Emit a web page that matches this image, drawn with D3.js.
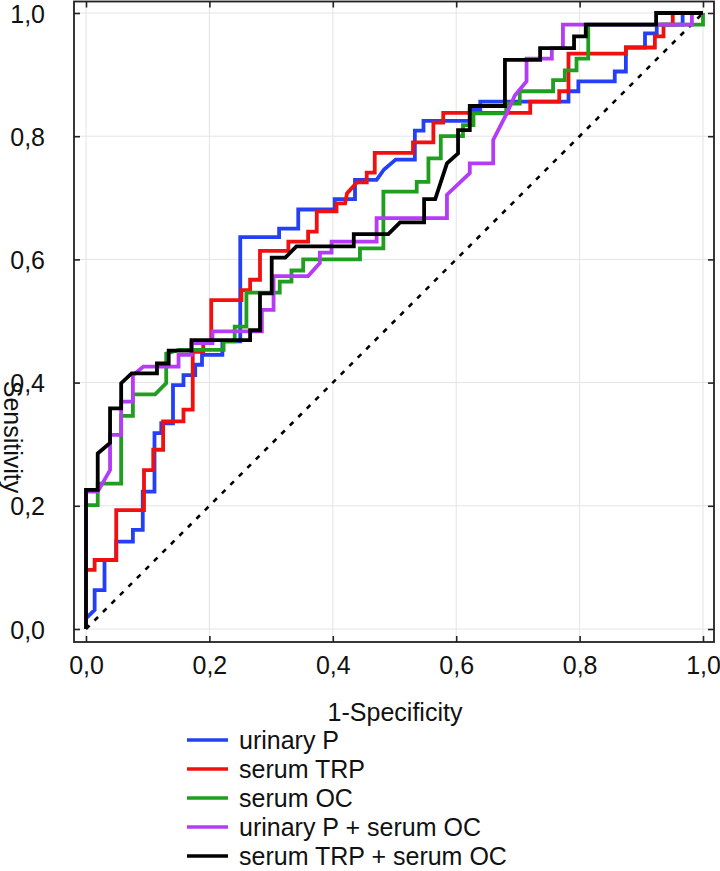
<!DOCTYPE html>
<html><head><meta charset="utf-8">
<script src="https://cdn.jsdelivr.net/npm/d3@7"></script>
<style>
html,body{margin:0;padding:0;background:#fff;}
svg{display:block;}
.tick-label{font-family:"Liberation Sans Narrow","Arial Narrow",sans-serif;font-size:25px;fill:#111;}
.txt{font-family:"Liberation Sans",Arial,sans-serif;font-size:25px;fill:#111;}
</style>
</head><body>
<svg id="chart" width="720" height="871"></svg>
<script>
const xTicks = [0, 0.2, 0.4, 0.6, 0.8, 1.0];
const yTicks = [0, 0.2, 0.4, 0.6, 0.8, 1.0];
const tickLabels = ["0,0", "0,2", "0,4", "0,6", "0,8", "1,0"];
const seriesNames = ["urinary P", "serum TRP", "serum OC", "urinary P + serum OC", "serum TRP + serum OC"];
const seriesColors = ["#2340f5", "#f01010", "#1f9e1f", "#b43cf5", "#000000"];

const urinaryP = [[0,0],[0,0.017],[0.014,0.031],[0.014,0.063],[0.030,0.063],[0.030,0.112],[0.049,0.112],[0.049,0.142],[0.076,0.142],[0.076,0.161],[0.092,0.161],[0.092,0.223],[0.111,0.223],[0.111,0.318],[0.122,0.318],[0.122,0.334],[0.141,0.334],[0.141,0.396],[0.158,0.396],[0.158,0.412],[0.177,0.412],[0.177,0.429],[0.188,0.429],[0.188,0.445],[0.221,0.445],[0.221,0.467],[0.250,0.467],[0.250,0.636],[0.313,0.636],[0.313,0.650],[0.344,0.650],[0.344,0.681],[0.403,0.681],[0.403,0.698],[0.436,0.698],[0.436,0.729],[0.471,0.729],[0.483,0.746],[0.502,0.762],[0.533,0.762],[0.533,0.809],[0.547,0.809],[0.547,0.825],[0.622,0.825],[0.622,0.843],[0.639,0.843],[0.639,0.856],[0.782,0.856],[0.782,0.873],[0.798,0.873],[0.798,0.889],[0.857,0.889],[0.857,0.905],[0.875,0.905],[0.875,0.944],[0.906,0.944],[0.906,0.967],[0.925,0.967],[0.925,0.981],[0.967,0.981],[0.967,1],[1,1]];

const serumTRP = [[0,0],[0,0.096],[0.014,0.096],[0.014,0.112],[0.049,0.112],[0.049,0.193],[0.094,0.193],[0.094,0.258],[0.109,0.258],[0.109,0.291],[0.125,0.291],[0.125,0.337],[0.158,0.337],[0.158,0.356],[0.173,0.356],[0.173,0.450],[0.190,0.450],[0.190,0.467],[0.203,0.467],[0.203,0.534],[0.252,0.534],[0.252,0.550],[0.266,0.550],[0.266,0.567],[0.282,0.567],[0.282,0.614],[0.328,0.614],[0.328,0.629],[0.360,0.629],[0.360,0.645],[0.374,0.645],[0.374,0.678],[0.406,0.678],[0.406,0.691],[0.420,0.691],[0.423,0.707],[0.439,0.725],[0.455,0.725],[0.455,0.741],[0.468,0.741],[0.468,0.773],[0.530,0.773],[0.530,0.790],[0.563,0.790],[0.563,0.822],[0.579,0.822],[0.579,0.838],[0.720,0.838],[0.720,0.856],[0.767,0.856],[0.767,0.873],[0.782,0.873],[0.782,0.934],[0.875,0.934],[0.875,0.944],[0.922,0.944],[0.922,0.962],[0.936,0.962],[0.936,0.981],[0.951,0.981],[0.951,1],[1,1]];

const serumOC = [[0,0],[0,0.201],[0.019,0.201],[0.019,0.236],[0.057,0.236],[0.057,0.346],[0.076,0.346],[0.076,0.381],[0.112,0.381],[0.130,0.399],[0.130,0.447],[0.150,0.453],[0.223,0.453],[0.223,0.467],[0.241,0.467],[0.241,0.491],[0.260,0.491],[0.260,0.546],[0.314,0.546],[0.314,0.564],[0.333,0.564],[0.333,0.582],[0.352,0.582],[0.352,0.600],[0.444,0.600],[0.444,0.618],[0.482,0.618],[0.482,0.710],[0.536,0.710],[0.536,0.726],[0.555,0.726],[0.555,0.764],[0.575,0.764],[0.575,0.800],[0.611,0.800],[0.611,0.818],[0.628,0.818],[0.628,0.837],[0.681,0.837],[0.681,0.853],[0.703,0.853],[0.703,0.873],[0.757,0.873],[0.757,0.891],[0.776,0.891],[0.776,0.907],[0.795,0.907],[0.795,0.926],[0.814,0.926],[0.814,0.981],[1,0.981],[1,1]];

const urinaryPserumOC = [[0,0],[0,0.223],[0.019,0.223],[0.039,0.258],[0.039,0.315],[0.057,0.315],[0.057,0.369],[0.076,0.369],[0.076,0.412],[0.093,0.426],[0.150,0.426],[0.150,0.445],[0.171,0.445],[0.171,0.464],[0.205,0.464],[0.205,0.483],[0.285,0.483],[0.285,0.518],[0.304,0.518],[0.304,0.573],[0.360,0.573],[0.379,0.594],[0.379,0.611],[0.398,0.611],[0.398,0.629],[0.471,0.629],[0.471,0.667],[0.585,0.667],[0.585,0.705],[0.622,0.740],[0.622,0.756],[0.660,0.756],[0.660,0.794],[0.682,0.837],[0.695,0.866],[0.714,0.889],[0.714,0.926],[0.755,0.926],[0.755,0.943],[0.773,0.943],[0.773,0.981],[0.982,0.981],[0.982,1],[1,1]];

const serumTRPserumOC = [[0,0],[0,0.226],[0.019,0.226],[0.019,0.285],[0.039,0.302],[0.039,0.358],[0.057,0.358],[0.057,0.399],[0.074,0.415],[0.115,0.415],[0.115,0.431],[0.134,0.431],[0.134,0.452],[0.171,0.452],[0.171,0.469],[0.266,0.469],[0.266,0.485],[0.282,0.485],[0.282,0.545],[0.301,0.545],[0.301,0.603],[0.323,0.603],[0.341,0.621],[0.434,0.621],[0.434,0.641],[0.490,0.641],[0.509,0.660],[0.548,0.660],[0.548,0.698],[0.566,0.698],[0.585,0.756],[0.603,0.772],[0.603,0.810],[0.622,0.810],[0.622,0.849],[0.679,0.849],[0.679,0.924],[0.736,0.924],[0.736,0.943],[0.791,0.943],[0.791,0.962],[0.810,0.962],[0.810,0.981],[0.924,0.981],[0.924,1],[1,1]];

const referenceLine = [[0,0],[1,1]];
const allSeries = [urinaryP, serumTRP, serumOC, urinaryPserumOC, serumTRPserumOC];

const svg = d3.select("#chart");
const x = d3.scaleLinear().domain([0,1]).range([86,703]);
const y = d3.scaleLinear().domain([0,1]).range([629,13]);
const frame = {l:74, r:714, t:1.5, b:642};

// grid
svg.append("g").selectAll("line.vg").data(xTicks).join("line")
  .attr("x1", d=>x(d)).attr("x2", d=>x(d)).attr("y1", frame.t).attr("y2", frame.b)
  .attr("stroke", "#e4e4e4").attr("stroke-width", 1);
svg.append("g").selectAll("line.hg").data(yTicks).join("line")
  .attr("y1", d=>y(d)).attr("y2", d=>y(d)).attr("x1", frame.l).attr("x2", frame.r)
  .attr("stroke", "#e4e4e4").attr("stroke-width", 1);

// axes with inward ticks
const fmt = d => tickLabels[xTicks.indexOf(d)];
const axB = svg.append("g").attr("transform", `translate(0,${frame.b})`)
  .call(d3.axisBottom(x).tickValues(xTicks).tickSize(-6).tickPadding(14).tickFormat(fmt));
const axT = svg.append("g").attr("transform", `translate(0,${frame.t})`)
  .call(d3.axisTop(x).tickValues(xTicks).tickSize(-6).tickFormat(""));
const axL = svg.append("g").attr("transform", `translate(${frame.l},0)`)
  .call(d3.axisLeft(y).tickValues(yTicks).tickSize(-6).tickPadding(36).tickFormat(fmt));
const axR = svg.append("g").attr("transform", `translate(${frame.r},0)`)
  .call(d3.axisRight(y).tickValues(yTicks).tickSize(-6).tickFormat(""));
[axB, axT, axL, axR].forEach(a => {
  a.select(".domain").remove();
  a.selectAll(".tick line").attr("stroke", "#222").attr("stroke-width", 1.6);
  a.selectAll(".tick text").attr("class", "tick-label").attr("fill", "#111").style("font-size", null).style("font-family", null);
});
axL.selectAll(".tick text").attr("x", -frame.l + 45).attr("text-anchor", "end").attr("dy", "0.36em");
axB.selectAll(".tick text").attr("dy", "0.71em");

// reference diagonal
svg.append("path").datum(referenceLine)
  .attr("d", d3.line().x(d=>x(d[0])).y(d=>y(d[1])))
  .attr("fill", "none").attr("stroke", "#000").attr("stroke-width", 2.6)
  .attr("stroke-dasharray", "5,7");

// curves
const line = d3.line().x(d=>x(d[0])).y(d=>y(d[1]));
svg.append("g").selectAll("path").data(allSeries).join("path")
  .attr("d", line).attr("fill", "none")
  .attr("stroke", (d,i)=>seriesColors[i]).attr("stroke-width", 3.8)
  .attr("stroke-linejoin", "miter").attr("stroke-linecap", "butt");

// frame
svg.append("rect").attr("x", frame.l).attr("y", frame.t)
  .attr("width", frame.r-frame.l).attr("height", frame.b-frame.t)
  .attr("fill", "none").attr("stroke", "#222").attr("stroke-width", 1.8);

// axis titles
svg.append("text").attr("class", "txt").attr("x", 395).attr("y", 721)
  .attr("text-anchor", "middle").text("1-Specificity");
svg.append("text").attr("class", "txt").attr("text-anchor", "middle")
  .attr("transform", "translate(4,437) rotate(90)").text("Sensitivity");

// legend
const leg = svg.append("g").selectAll("g").data(seriesNames).join("g")
  .attr("transform", (d,i)=>`translate(0,${740 + i*29})`);
leg.append("line").attr("x1", 187).attr("x2", 228).attr("y1", 0).attr("y2", 0)
  .attr("stroke", (d,i)=>seriesColors[i]).attr("stroke-width", 3.5);
leg.append("text").attr("class", "txt").attr("x", 239).attr("y", 9).text(d=>d);
</script>
</body></html>
